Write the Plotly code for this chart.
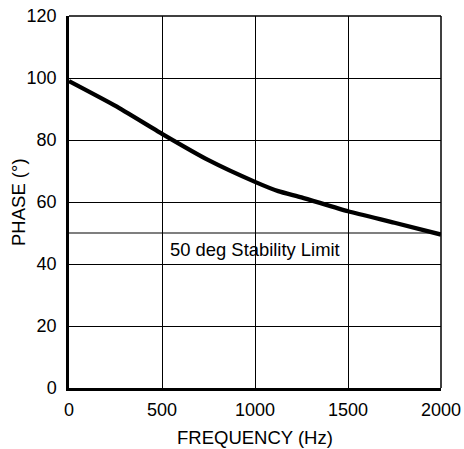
import plotly.graph_objects as go

freq = [0, 250, 500, 750, 1000, 1125, 1250, 1500, 1750, 2000]
phase = [99, 91, 82, 73.5, 66.5, 63.5, 61.5, 57, 53.3, 49.5]
limit_value = 50
limit_label = "50 deg Stability Limit"
x_ticks = [0, 500, 1000, 1500, 2000]
y_ticks = [0, 20, 40, 60, 80, 100, 120]
x_title = "FREQUENCY (Hz)"
y_title = "PHASE (°)"

FONT = "Liberation Sans, Arial"

fig = go.Figure()
fig.add_trace(go.Scatter(x=freq, y=phase, mode="lines",
                         line=dict(color="black", width=4.3, shape="spline", smoothing=0.5),
                         showlegend=False, hoverinfo="skip", cliponaxis=False))
fig.add_shape(type="line", xref="x", yref="y", x0=0, x1=2000, y0=limit_value, y1=limit_value,
              line=dict(color="black", width=1.2))
fig.add_annotation(x=1000, y=limit_value, yshift=-16, text=limit_label, showarrow=False,
                   font=dict(family=FONT, size=18.4, color="black"))

# top and right border lines
fig.add_shape(type="line", xref="paper", yref="paper", x0=0, x1=1, y0=1, y1=1,
              line=dict(color="black", width=1.5))
fig.add_shape(type="line", xref="paper", yref="paper", x0=1, x1=1, y0=0, y1=1,
              line=dict(color="black", width=1.5))

# axis titles
fig.add_annotation(xref="paper", yref="paper", x=0.5, y=0, yshift=-49, text=x_title,
                   xanchor="center", yanchor="middle",
                   showarrow=False, font=dict(family=FONT, size=18.5, color="black"))
fig.add_annotation(xref="paper", yref="paper", x=0, y=0.5, xshift=-51, text=y_title,
                   xanchor="center", yanchor="middle",
                   textangle=-90, showarrow=False, font=dict(family=FONT, size=18.5, color="black"))

fig.update_layout(
    width=464, height=449,
    margin=dict(l=69, r=23, t=16, b=61),
    paper_bgcolor="white", plot_bgcolor="white",
    font=dict(family=FONT, color="black", size=18),
    xaxis=dict(range=[0, 2000], tickvals=x_ticks, showgrid=True, gridcolor="black", gridwidth=1.2,
               showline=True, linecolor="black", linewidth=2.5, zeroline=False,
               ticks="outside", ticklen=4, tickcolor="rgba(0,0,0,0)",
               ticklabeloverflow="allow",
               automargin=False, tickfont=dict(size=18)),
    yaxis=dict(range=[0, 120], tickvals=y_ticks, showgrid=True, gridcolor="black", gridwidth=1.2,
               showline=True, linecolor="black", linewidth=2.5, zeroline=False,
               ticks="outside", ticklen=6, tickcolor="rgba(0,0,0,0)",
               ticklabeloverflow="allow",
               automargin=False, tickfont=dict(size=18)),
)
fig.write_html("out.html", config={"displayModeBar": False},
               post_script="document.body.style.margin='0px';")
